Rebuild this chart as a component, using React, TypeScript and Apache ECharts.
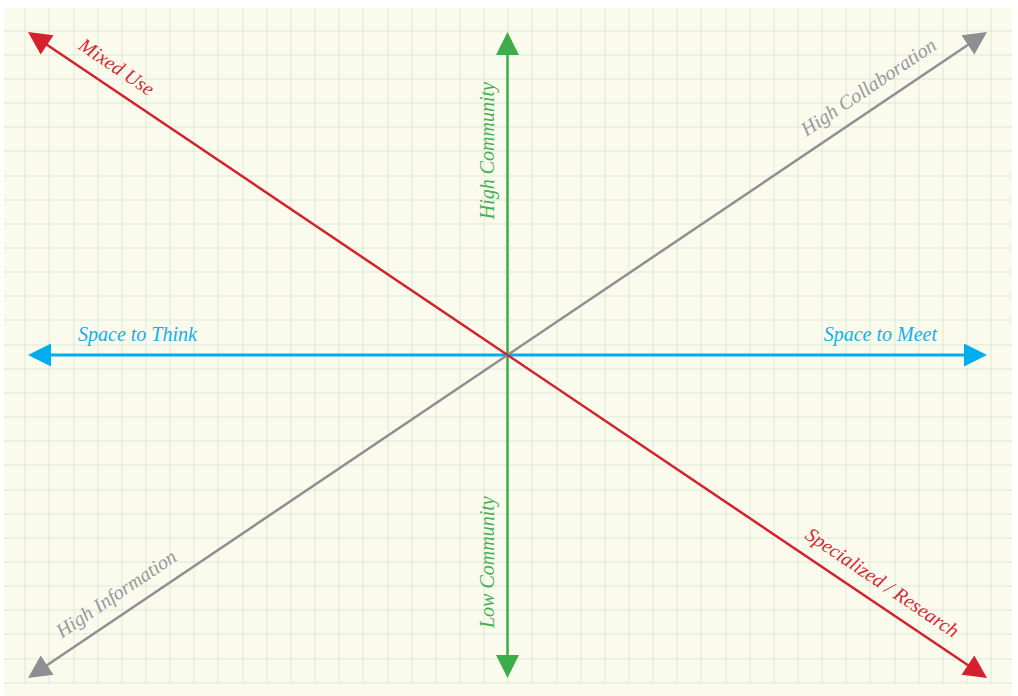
import React, { useEffect, useRef } from 'react';
import * as echarts from 'echarts';

// Axis ends (value space -1..1 on each axis), one entry per half-axis
const axisLabels = [
  'Space to Meet',
  'Space to Think',
  'High Community',
  'Low Community',
  'High Collaboration',
  'High Information',
  'Mixed Use',
  'Specialized / Research',
];
const endX = [1, -1, 0, 0, 1, -1, -1, 1];
const endY = [0, 0, 1, -1, 1, -1, 1, -1];
const axisGroup = ['meet', 'meet', 'community', 'community', 'collab', 'collab', 'mixed', 'mixed'];

const groupColors: Record<string, string> = {
  meet: '#00aeef',
  community: '#3cad4b',
  collab: '#8e8e93',
  mixed: '#d4212d',
};
const textColors: Record<string, string> = {
  meet: '#0fb0ec',
  community: '#46b054',
  collab: '#98989c',
  mixed: '#d42a36',
};

// background paper grid
const bgCols = 42;
const bgRows = 28;

export default function App() {
  const ref = useRef<HTMLDivElement>(null);

  useEffect(() => {
    document.body.style.margin = '0';
    const chart = echarts.init(ref.current!, null, { renderer: 'svg' });

    const gridLine = { show: true, lineStyle: { color: 'rgba(196,218,200,0.28)', width: 2 } };

    const option: any = {
      animation: false,
      backgroundColor: '#fbfbed',
      grid: [
        { left: 28, right: 31, top: 32, bottom: 18, show: false },
        { left: 0.85, top: 6.25, width: 1014.3, height: 676.2, show: false },
      ],
      xAxis: [
        { gridIndex: 0, type: 'value', min: -1, max: 1, show: false },
        {
          gridIndex: 1, type: 'value', min: 0, max: bgCols, interval: 1,
          axisLine: { show: false }, axisTick: { show: false }, axisLabel: { show: false },
          splitLine: gridLine,
        },
      ],
      yAxis: [
        { gridIndex: 0, type: 'value', min: -1, max: 1, show: false },
        {
          gridIndex: 1, type: 'value', min: 0, max: bgRows, interval: 1,
          axisLine: { show: false }, axisTick: { show: false }, axisLabel: { show: false },
          splitLine: gridLine,
        },
      ],
      graphic: [
        { type: 'rect', z: 100, shape: { x: 0, y: 0, width: 1018, height: 8 }, style: { fill: '#ffffff' } },
        { type: 'rect', z: 100, shape: { x: 0, y: 0, width: 4, height: 696 }, style: { fill: '#ffffff' } },
        { type: 'rect', z: 100, shape: { x: 1012, y: 0, width: 6, height: 696 }, style: { fill: '#ffffff' } },
      ],
      series: [
        {
          type: 'custom',
          coordinateSystem: 'cartesian2d',
          xAxisIndex: 0,
          yAxisIndex: 0,
          silent: true,
          z: 5,
          data: endX.map((x, i) => [x, endY[i]]),
          renderItem: (params: any, api: any) => {
            const i = params.dataIndex;
            const g = axisGroup[i];
            const color = groupColors[g];
            const c = api.coord([0, 0]);
            const t = api.coord([api.value(0), api.value(1)]);
            const dx = t[0] - c[0];
            const dy = t[1] - c[1];
            const len = Math.hypot(dx, dy);
            const ux = dx / len;
            const uy = dy / len;
            const headLen = 23;
            const headHalf = 11.5;
            const bx = t[0] - ux * headLen;
            const by = t[1] - uy * headLen;
            const px = -uy;
            const py = ux;
            const flip = ux < -1e-6 || (Math.abs(ux) < 1e-6 && uy > 0);
            const rx = flip ? -ux : ux;
            const ry = flip ? -uy : uy;
            const rot = Math.atan2(-ry, rx);
            const upx = ry;
            const upy = -rx;
            const ax = t[0] - ux * 50 + upx * 21;
            const ay = t[1] - uy * 50 + upy * 21;
            return {
              type: 'group',
              children: [
                {
                  type: 'line',
                  shape: { x1: c[0], y1: c[1], x2: bx + ux * 2, y2: by + uy * 2 },
                  style: { stroke: color, lineWidth: g === 'meet' ? 3 : 2.5 },
                },
                {
                  type: 'polygon',
                  shape: {
                    points: [
                      [t[0], t[1]],
                      [bx + px * headHalf, by + py * headHalf],
                      [bx - px * headHalf, by - py * headHalf],
                    ],
                  },
                  style: { fill: color },
                },
                {
                  type: 'text',
                  x: ax,
                  y: ay,
                  rotation: rot,
                  style: {
                    text: axisLabels[i],
                    fill: textColors[g],
                    fontSize: 20,
                    fontStyle: 'italic',
                    fontFamily: '"Liberation Serif", serif',
                    align: flip ? 'left' : 'right',
                    verticalAlign: 'middle',
                  },
                },
              ],
            };
          },
        },
      ],
    };

    chart.setOption(option);
    return () => chart.dispose();
  }, []);

  return <div ref={ref} style={{ width: 1018, height: 696 }} />;
}
